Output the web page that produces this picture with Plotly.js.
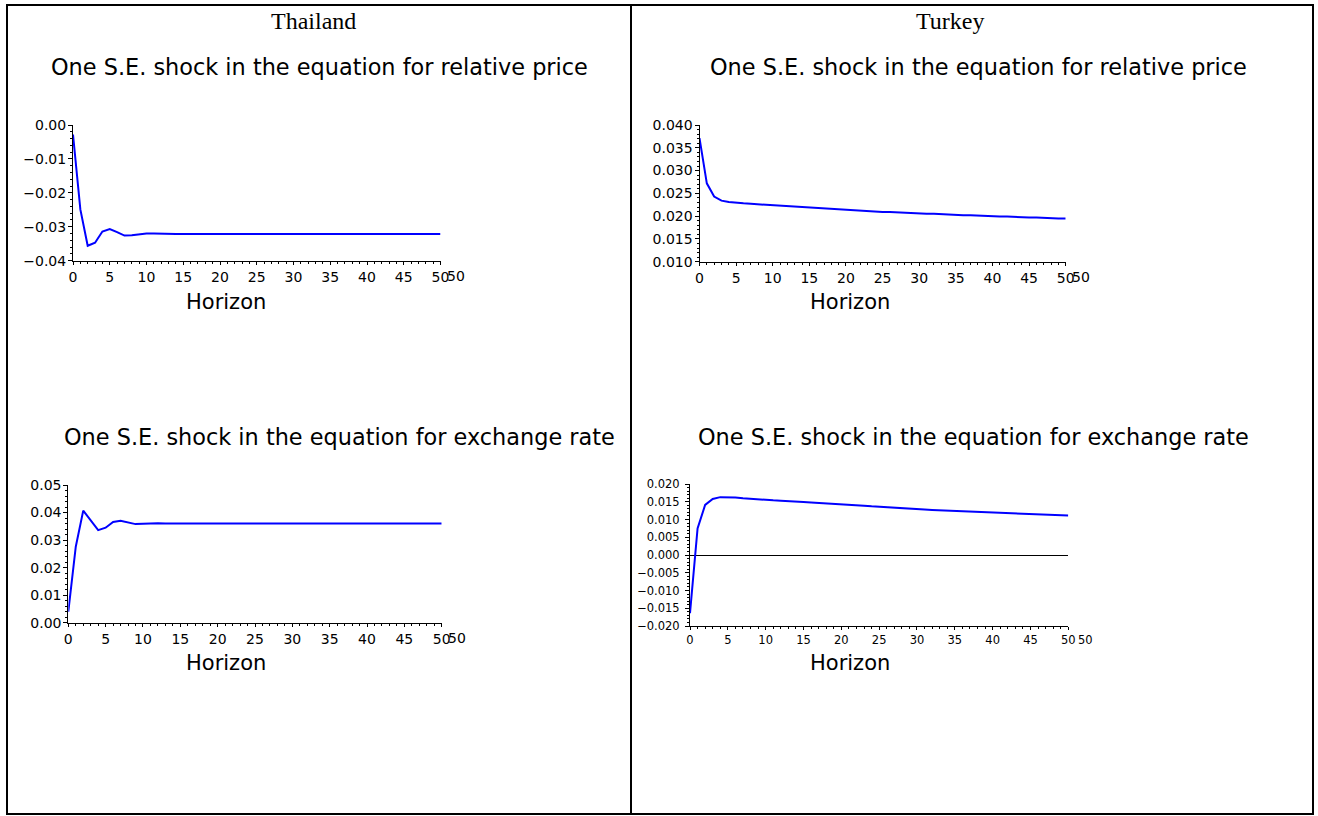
<!DOCTYPE html>
<html>
<head>
<meta charset="utf-8">
<script src="https://cdn.plot.ly/plotly-3.0.1.min.js"></script>
<style>
  html, body { margin: 0; padding: 0; background: #fff; }
  #chart { width: 1318px; height: 816px; }
</style>
</head>
<body>
<div id="chart"></div>
<script>
// Impulse responses over a 50-period horizon
const horizon = Array.from({length: 51}, (_, i) => i);

const thailandRelPrice = [
  -0.0028, -0.0249, -0.0356, -0.0347, -0.0314, -0.0307, -0.0316, -0.0326, -0.0325, -0.0322,
  -0.0320, -0.0320, -0.0321, -0.0322, -0.0321, -0.0321, -0.0321, -0.0321, -0.0321, -0.0321,
  -0.0321, -0.0321, -0.0321, -0.0321, -0.0321, -0.0321, -0.0321, -0.0321, -0.0321, -0.0321,
  -0.0321, -0.0321, -0.0321, -0.0321, -0.0321, -0.0321, -0.0321, -0.0321, -0.0321, -0.0321,
  -0.0321, -0.0321, -0.0321, -0.0321, -0.0321, -0.0321, -0.0321, -0.0321, -0.0321, -0.0321,
  -0.0321
];

const thailandExRate = [
  0.0040, 0.0276, 0.0407, 0.0372, 0.0336, 0.0345, 0.0366, 0.0370, 0.0363, 0.0358,
  0.0359, 0.0361, 0.0361, 0.0360, 0.0360, 0.0360, 0.0360, 0.0360, 0.0360, 0.0360,
  0.0360, 0.0360, 0.0360, 0.0360, 0.0360, 0.0360, 0.0360, 0.0360, 0.0360, 0.0360,
  0.0360, 0.0360, 0.0360, 0.0360, 0.0360, 0.0360, 0.0360, 0.0360, 0.0360, 0.0360,
  0.0360, 0.0360, 0.0360, 0.0360, 0.0360, 0.0360, 0.0360, 0.0360, 0.0360, 0.0360,
  0.0360
];

const turkeyRelPrice = [
  0.0371, 0.0272, 0.0243, 0.0234, 0.0231, 0.0229, 0.0228, 0.0227, 0.0226, 0.0225,
  0.0223, 0.0222, 0.0221, 0.0220, 0.0219, 0.0218, 0.0217, 0.0216, 0.0215, 0.0214,
  0.0213, 0.0212, 0.0212, 0.0211, 0.0210, 0.0209, 0.0209, 0.0208, 0.0207, 0.0207,
  0.0206, 0.0205, 0.0205, 0.0204, 0.0203, 0.0203, 0.0202, 0.0202, 0.0201, 0.0201,
  0.0200, 0.0199, 0.0199, 0.0198, 0.0198, 0.0197, 0.0197, 0.0196, 0.0196, 0.0195,
  0.0195
];

const turkeyExRate = [
  -0.0164, 0.0075, 0.0141, 0.0158, 0.0163, 0.0163, 0.0162, 0.0160, 0.0158, 0.0157,
  0.0155, 0.0154, 0.0153, 0.0151, 0.0150, 0.0149, 0.0148, 0.0147, 0.0145, 0.0144,
  0.0143, 0.0142, 0.0140, 0.0139, 0.0137, 0.0136, 0.0134, 0.0133, 0.0132, 0.0130,
  0.0129, 0.0128, 0.0127, 0.0126, 0.0125, 0.0124, 0.0123, 0.0122, 0.0121, 0.0120,
  0.0119, 0.0118, 0.0117, 0.0117, 0.0116, 0.0115, 0.0114, 0.0113, 0.0113, 0.0112,
  0.0111
];

const countries = ['Thailand', 'Turkey'];
const shockTitles = [
  'One S.E. shock in the equation for relative price',
  'One S.E. shock in the equation for exchange rate'
];
const xTitle = 'Horizon';

const W = 1318, H = 816;
const fx = px => px / W;
const fy = py => 1 - py / H;
const SANS = 'DejaVu Sans, Liberation Sans, Arial, sans-serif';

// Panel geometry in pixels: left, right, top, bottom of each plot area
const panels = [
  {y: thailandRelPrice, box: [73, 440.5, 125, 260.7], range: [-0.04, 0], dtick: 0.01, minor: 0.002, fmt: '.2f', font: 14, off: -1, xt: [226, 302]},
  {y: turkeyRelPrice,   box: [699.5, 1065.7, 125, 261.7], range: [0.010, 0.040], dtick: 0.005, minor: 0.001, fmt: '.3f', font: 14, off: -1, xt: [850, 302]},
  {y: thailandExRate,   box: [68.3, 441.7, 485, 622.7], range: [0, 0.05], dtick: 0.01, minor: 0.002, fmt: '.2f', font: 14, off: -1, xt: [226, 663]},
  {y: turkeyExRate,     box: [690, 1068.3, 484, 626], range: [-0.02, 0.02], dtick: 0.005, minor: 0.001, fmt: '.3f', font: 11.5, off: 3, xt: [850, 663], zero: true}
];

const data = [];
const layout = {
  width: W, height: H,
  margin: {l: 0, r: 0, t: 0, b: 0},
  paper_bgcolor: '#ffffff', plot_bgcolor: 'rgba(0,0,0,0)',
  showlegend: false,
  font: {family: SANS, color: '#000'},
  annotations: [],
  shapes: []
};

panels.forEach((p, i) => {
  const n = i + 1;
  const ov = n + 4;
  const xs = n === 1 ? '' : n, ys = n === 1 ? '' : n;
  data.push({
    x: horizon, y: p.y, type: 'scatter', mode: 'lines',
    xaxis: 'x' + xs, yaxis: 'y' + ys,
    line: {color: '#0000ff', width: 2}, hoverinfo: 'skip'
  });
  const xd = [fx(p.box[0]), fx(p.box[1])];
  const yd = [fy(p.box[3]), fy(p.box[2])];
  const tf = {family: SANS, size: p.font, color: '#000'};
  // Main axes: labels and outward ticks
  layout['xaxis' + xs] = {
    domain: xd, anchor: 'y' + ys, range: [0, 50], tick0: 0, dtick: 5,
    showgrid: false, zeroline: false, showline: true, linecolor: '#000', linewidth: 1,
    ticks: 'outside', ticklen: 3, tickcolor: '#000', tickwidth: 1, tickfont: tf,
    ticklabelstandoff: 0,
    minor: {dtick: 1, ticks: 'outside', ticklen: 2, tickcolor: '#000', showgrid: false},
    fixedrange: true
  };
  layout['yaxis' + ys] = {
    domain: yd, anchor: 'x' + xs, range: p.range, tick0: 0, dtick: p.dtick, tickformat: p.fmt,
    showgrid: false, showline: true, linecolor: '#000', linewidth: 1,
    zeroline: !!p.zero, zerolinecolor: '#000', zerolinewidth: 1,
    ticks: 'outside', ticklen: 4, tickcolor: '#000', tickwidth: 1, tickfont: tf,
    ticklabelstandoff: p.off,
    minor: {dtick: p.minor, ticks: 'outside', ticklen: 2, tickcolor: '#000', showgrid: false},
    fixedrange: true
  };
  // Overlay axes carry the inward half of each tick, so ticks cross the axis line
  layout['xaxis' + ov] = {
    overlaying: 'x' + xs, anchor: 'y' + ys, range: [0, 50], tick0: 0, dtick: 5,
    showgrid: false, zeroline: false, showline: false, showticklabels: false,
    ticks: 'inside', ticklen: 4, tickcolor: '#000', tickwidth: 1,
    minor: {dtick: 1, ticks: 'inside', ticklen: 2, tickcolor: '#000', showgrid: false},
    fixedrange: true
  };
  layout['yaxis' + ov] = {
    overlaying: 'y' + ys, anchor: 'x' + xs, range: p.range, tick0: 0, dtick: p.dtick,
    showgrid: false, zeroline: false, showline: false, showticklabels: false,
    ticks: 'inside', ticklen: 4, tickcolor: '#000', tickwidth: 1,
    minor: {dtick: p.minor, ticks: 'inside', ticklen: 2, tickcolor: '#000', showgrid: false},
    fixedrange: true
  };
  // Trailing end label after the last tick
  layout.annotations.push({
    xref: 'x' + xs, yref: 'paper', x: 50, y: fy(p.box[3]),
    text: '50', showarrow: false, xanchor: 'left', yanchor: 'top',
    xshift: p.zero ? 8 : 4, yshift: p.zero ? -5 : -5,
    font: tf
  });
  // Horizon axis title
  layout.annotations.push({
    xref: 'paper', yref: 'paper', x: fx(p.xt[0]), y: fy(p.xt[1]),
    text: xTitle, showarrow: false, xanchor: 'center', yanchor: 'middle',
    font: {family: SANS, size: 21, color: '#000'}
  });
});

// Country headings
[[313, countries[0]], [950, countries[1]]].forEach(([px, t]) => {
  layout.annotations.push({
    xref: 'paper', yref: 'paper', x: fx(px), y: fy(21), text: t,
    showarrow: false, xanchor: 'center', yanchor: 'middle',
    font: {family: 'Liberation Serif, Times New Roman, serif', size: 24, color: '#000'}
  });
});

// Shock headings
[[319, 67, 0], [979, 67, 0], [339, 437, 1], [974, 437, 1]].forEach(([px, py, k]) => {
  layout.annotations.push({
    xref: 'paper', yref: 'paper', x: fx(px), y: fy(py), text: shockTitles[k],
    showarrow: false, xanchor: 'center', yanchor: 'middle',
    font: {family: SANS, size: 22.4, color: '#000'}
  });
});

// Table frame with a centre divider
layout.shapes.push({
  type: 'rect', xref: 'paper', yref: 'paper',
  x0: fx(7), x1: fx(1313), y0: fy(814), y1: fy(5),
  line: {color: '#000', width: 2}, fillcolor: 'rgba(0,0,0,0)'
});
layout.shapes.push({
  type: 'line', xref: 'paper', yref: 'paper',
  x0: fx(631), x1: fx(631), y0: fy(814), y1: fy(5),
  line: {color: '#000', width: 2}
});

Plotly.newPlot('chart', data, layout, {displayModeBar: false, staticPlot: true});
</script>
</body>
</html>
